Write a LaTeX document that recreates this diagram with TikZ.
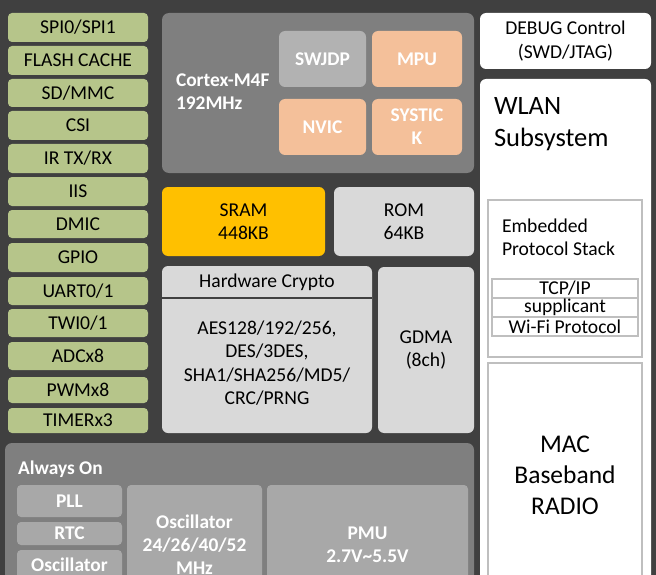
\documentclass[tikz,border=0pt]{standalone}
\usepackage{fontspec}
\setmainfont{Carlito}
\definecolor{cbg}{HTML}{404040}
\definecolor{cgreen}{HTML}{B6C58A}
\definecolor{cmid}{HTML}{7F7F7F}
\definecolor{cswj}{HTML}{B2B2B2}
\definecolor{cpeach}{HTML}{F4C09A}
\definecolor{csram}{HTML}{FFC000}
\definecolor{clight}{HTML}{D9D9D9}
\definecolor{caon}{HTML}{A8A8A8}
\definecolor{cline}{HTML}{BFBFBF}
\newcommand\fsN{\fontsize{19.6}{23.5}\selectfont}
\newcommand\fsB{\fontsize{19.4}{23}\selectfont\bfseries}
\newcommand\fsW{\fontsize{26.5}{32}\selectfont}
\newcommand\fsM{\fontsize{25.5}{31}\selectfont}
\newcommand\bx[7]{\node[#6, minimum width={#4-#2}, minimum height={#5-#3}] (#1) at ({(#2+#4)/2},{(#3+#5)/2}) {#7};}
\tikzset{
  base/.style={inner sep=0pt, outer sep=0pt, align=center, font=\fsN, text=black},
  grn/.style={base, fill=cgreen, rounded corners=4pt},
  midbox/.style={base, fill=cmid, rounded corners=7pt},
  swj/.style={base, fill=cswj, rounded corners=6pt, font=\fsB, text=white},
  peach/.style={base, fill=cpeach, rounded corners=6pt, font=\fsB, text=white},
  sramb/.style={base, fill=csram, rounded corners=6pt},
  lightb/.style={base, fill=clight, rounded corners=6pt},
  whiteb/.style={base, fill=white, rounded corners=6pt},
  framed/.style={base, fill=white, draw=cline, line width=1.5pt},
  aonb/.style={base, fill=caon, rounded corners=4pt, font=\fsB, text=white},
  lbl/.style={inner sep=0pt, outer sep=0pt, align=left, anchor=west},
}
\begin{document}
\begin{tikzpicture}[x=1pt,y=-1pt]
\useasboundingbox (0,0) rectangle (656,575);
\clip (0,0) rectangle (656,575);
\fill[cbg] (0,0) rectangle (656,575);
% left column
\bx{spi}{8}{13}{148}{42}{grn}{SPI0/SPI1}
\bx{flash}{8}{46}{148}{75}{grn}{FLASH CACHE}
\bx{sd}{8}{79}{148}{107}{grn}{SD/MMC}
\bx{csi}{8}{111}{148}{140}{grn}{CSI}
\bx{ir}{8}{144}{148}{173}{grn}{IR TX/RX}
\bx{iis}{8}{177}{148}{206}{grn}{IIS}
\bx{dmic}{8}{210}{148}{238}{grn}{DMIC}
\bx{gpio}{8}{243}{148}{272}{grn}{GPIO}
\bx{uart}{8}{277}{148}{305}{grn}{UART0/1}
\bx{twi}{8}{309}{148}{337}{grn}{TWI0/1}
\bx{adc}{8}{342}{148}{370}{grn}{ADCx8}
\bx{pwm}{8}{377}{148}{403}{grn}{PWMx8}
\bx{timer}{8}{408}{148}{433}{grn}{TIMERx3}
% cortex
\bx{cortex}{162}{13}{474}{173}{midbox}{}
\node[lbl, font=\fsB, text=white] (cortexlbl) at (176,91.5) {Cortex-M4F\\192MHz};
\bx{swjdp}{279}{31}{366}{87}{swj}{SWJDP}
\bx{mpu}{372}{31}{462}{87}{peach}{MPU}
\bx{nvic}{279}{99}{366}{155}{peach}{NVIC}
\bx{systick}{372}{99}{462}{155}{peach}{SYSTIC\\K}
% memories
\bx{sram}{162}{187}{325}{256}{sramb}{SRAM\\448KB}
\bx{rom}{334}{187}{474}{256}{lightb}{ROM\\64KB}
\bx{crypto}{162}{266}{372}{433}{lightb}{}
\draw[cbg, line width=1.5pt] (crypto.west |- 0,298) -- (crypto.east |- 0,298);
\node[base] (cryptohd) at (267,282) {Hardware Crypto};
\node[base] (cryptobody) at (267,363) {AES128/192/256,\\DES/3DES,\\SHA1/SHA256/MD5/\\CRC/PRNG};
\bx{gdma}{378}{267}{474}{433}{lightb}{GDMA\\(8ch)}
% right column
\bx{debug}{480}{13}{651}{69}{whiteb}{DEBUG Control\\(SWD/JTAG)}
\bx{wlan}{480}{79}{651}{620}{whiteb}{}
\node[lbl, font=\fsW] (wlanlbl) at (494,124) {WLAN\\Subsystem};
\bx{eps}{488}{200}{642}{357}{framed}{}
\node[lbl, font=\fsN] (epslbl) at (502,237.5) {Embedded\\Protocol Stack};
\bx{tcp}{492}{279}{638}{298}{framed}{TCP/IP}
\bx{supp}{492}{298}{638}{317}{framed}{supplicant}
\bx{wifi}{492}{317}{638}{336}{framed}{Wi-Fi Protocol}
\bx{mac}{488}{363}{642}{587}{framed, font=\fsM}{MAC\\Baseband\\RADIO}
% always on
\bx{aon}{5}{443}{474}{620}{midbox}{}
\node[lbl, font=\fsB, text=white] (aonlbl) at (18,469) {Always On};
\bx{pll}{17}{485}{122}{517}{aonb}{PLL}
\bx{rtc}{17}{522}{122}{545}{aonb}{RTC}
\bx{osca}{17}{550}{122}{580}{aonb}{Oscillator}
\bx{oscb}{127}{485}{262}{605}{aonb}{Oscillator\\24/26/40/52\\MHz}
\bx{pmu}{267}{485}{468}{604}{aonb}{PMU\\2.7V\textasciitilde 5.5V}
\end{tikzpicture}
\end{document}
